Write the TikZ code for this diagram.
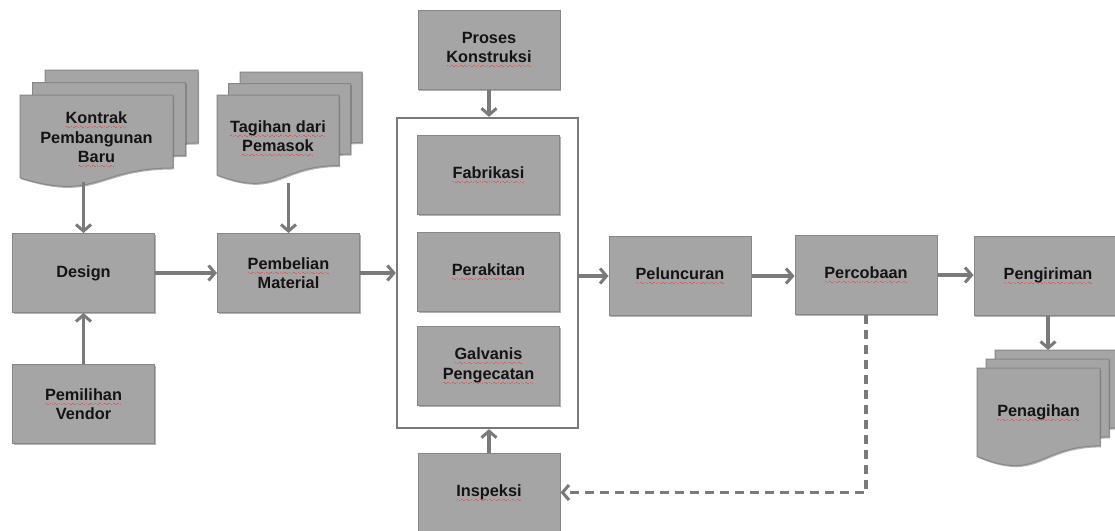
\documentclass[tikz,border=0pt]{standalone}
\usepackage{fontspec}
\setmainfont{Liberation Sans}
\usetikzlibrary{arrows.meta,shadows}

\definecolor{boxfill}{RGB}{165,165,165}
\definecolor{boxline}{RGB}{135,135,135}
\definecolor{arrowgray}{RGB}{122,122,122}
\definecolor{textdark}{RGB}{20,20,20}
\definecolor{squig}{RGB}{226,90,90}

% red spell-check style wavy underline
\newsavebox\spellbox
\newcommand\spell[1]{\leavevmode\sbox\spellbox{#1}%
  \rlap{\textcolor{squig}{\hbox to \wd\spellbox{\xleaders\hbox{\rule[-3.4pt]{1.6pt}{0.8pt}\kern0.6pt\rule[-4.3pt]{1.6pt}{0.8pt}\kern0.6pt}\hfill}}}%
  \usebox\spellbox}

% one page of a document symbol: x, y (top-left), width, height
\newcommand\docpage[4]{%
  \filldraw[docsheet] (#1,#2) -- ({#1+#3},#2) -- ({#1+#3},{#2+0.82*#4})
    .. controls ({#1+0.5*#3},{#2+0.82*#4}) and ({#1+0.5*#3},{#2+1.2*#4})
    .. (#1,{#2+0.93*#4}) -- cycle;}
% stack of three pages: front x, y, width, height, page offset
\newcommand\docstack[5]{%
  \docpage{#1+2*#5}{#2-2*#5}{#3}{#4}%
  \docpage{#1+#5}{#2-#5}{#3}{#4}%
  \docpage{#1}{#2}{#3}{#4}}

\tikzset{
  label font/.style={font=\bfseries\fontsize{16.3}{19.5}\selectfont, text=textdark},
  softshadow/.style={drop shadow={shadow xshift=1pt, shadow yshift=-1.5pt, opacity=0.3, fill=black}},
  box/.style={rectangle, fill=boxfill, draw=boxline, line width=1pt,
    minimum width=142pt, minimum height=79pt, inner sep=0pt, align=center,
    label font, softshadow},
  docsheet/.style={fill=boxfill, draw=boxline, line width=1pt, softshadow},
  doctext/.style={align=center, inner sep=0pt, label font},
  frame/.style={rectangle, draw=arrowgray, line width=2.3pt, fill=white,
    minimum width=181pt, minimum height=310pt, inner sep=0pt},
  flow/.style={draw=arrowgray, line width=3.2pt,
    -{Straight Barb[length=6.5pt,width=15pt,line width=3pt]}},
  dashflow/.style={flow, line width=3.5pt, dash pattern=on 9pt off 6pt}
}

\begin{document}
\begin{tikzpicture}[x=1pt,y=-1pt]
  \clip (0,0) rectangle (1115,530);
  \fill[white] (0,0) rectangle (1115,530);

  % document stacks
  \docstack{20}{95}{153}{89}{12.5}
  \node[doctext] (kontrak) at (96.5,139.5) {\spell{Kontrak}\\Pembangunan\\\spell{Baru}};
  \docstack{217}{95}{122}{86}{11.5}
  \node[doctext] (tagihan) at (278,138) {\spell{Tagihan dari}\\\spell{Pemasok}};
  \docstack{977}{368}{123}{95}{9}
  \node[doctext] (penagihan) at (1038.5,413) {\spell{Penagihan}};

  % process boxes
  \node[box] (design) at (83.5,273) {Design};
  \node[box] (vendor) at (83.5,404) {\spell{Pemilihan}\\Vendor};
  \node[box] (pembelian) at (288.5,273) {\spell{Pembelian}\\Material};
  \node[box] (proses) at (489,49.5) {Proses\\\spell{Konstruksi}};

  \node[frame] (frame) at (487.5,273) {};
  \node[box] (fabrikasi) at (488.5,175) {\spell{Fabrikasi}};
  \node[box] (perakitan) at (488.5,272) {\spell{Perakitan}};
  \node[box] (galvanis) at (488.5,365.5) {\spell{Galvanis}\\\spell{Pengecatan}};
  \node[box] (inspeksi) at (489,492.5) {\spell{Inspeksi}};

  \node[box] (peluncuran) at (680,276) {\spell{Peluncuran}};
  \node[box] (percobaan) at (866,275) {\spell{Percobaan}};
  \node[box, minimum width=148pt] (pengiriman) at (1048,276) {\spell{Pengiriman}};

  % free ends at the wavy document edges
  \coordinate (kontrakfoot) at (83.5,182);
  \coordinate (tagihanfoot) at (288.5,183);
  \coordinate (penagihantop) at (1048,350);

  % connectors
  \draw[flow] (kontrakfoot) -- (design.north);
  \draw[flow] (vendor.north) -- (design.south);
  \draw[flow] (tagihanfoot) -- (pembelian.north);
  \draw[flow] (design.east) -- (pembelian.west);
  \draw[flow] (pembelian.east) -- (pembelian.east -| frame.west);
  \draw[flow] (proses.south) -- (proses.south |- frame.north);
  \draw[flow] (inspeksi.north) -- (inspeksi.north |- frame.south);
  \draw[flow] (peluncuran.west -| frame.east) -- (peluncuran.west);
  \draw[flow] (peluncuran.east) -- (percobaan.west |- peluncuran.east);
  \draw[flow] (percobaan.east) -- (pengiriman.west |- percobaan.east);
  \draw[flow] (pengiriman.south) -- (penagihantop);
  \draw[dashflow] (percobaan.south) -- (percobaan.south |- inspeksi.east) -- (inspeksi.east);
\end{tikzpicture}
\end{document}
